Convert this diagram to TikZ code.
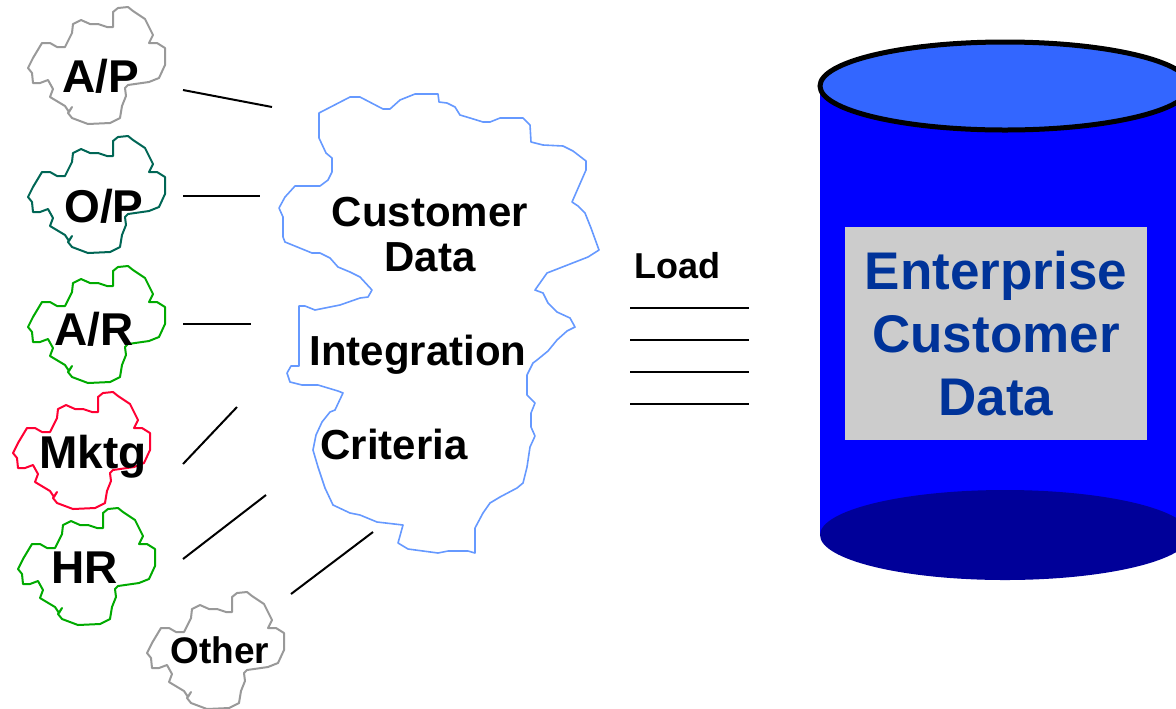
\documentclass[tikz,border=0pt]{standalone}
\usepackage{fontspec}
\setmainfont{Liberation Sans}
\usepackage{xcolor}
\usetikzlibrary{positioning}

\definecolor{cloudgray}{HTML}{999999}
\definecolor{opteal}{HTML}{006655}
\definecolor{argreen}{HTML}{00AA00}
\definecolor{mkred}{HTML}{FF0033}
\definecolor{hubblue}{HTML}{6699FF}
\definecolor{dbside}{HTML}{0000FF}
\definecolor{dbtop}{HTML}{3366FF}
\definecolor{dbbottom}{HTML}{000099}
\definecolor{dbtext}{HTML}{003399}
\definecolor{boxgray}{HTML}{CCCCCC}

\begin{document}
\begin{tikzpicture}[
  x=0.5pt, y=-0.5pt,
  src/.style={font=\fontsize{23}{27}\selectfont\bfseries, inner sep=0, anchor=base},
  hub/.style={font=\fontsize{21}{22.5}\selectfont\bfseries, inner sep=0, align=center},
  link/.style={line width=1pt},
  blob/.style={line width=1pt, line join=round},
  dbbox/.style={fill=boxgray, text=dbtext, inner sep=0, align=center,
    minimum width=151pt, minimum height=106.5pt,
    font=\fontsize{26.5}{31.5}\selectfont\bfseries}
]
\useasboundingbox (0,0) rectangle (1176,708);
\clip (0,0) rectangle (1176,708);

% Source clouds (same outline, moved)
\foreach \x/\y/\col in {97/66/cloudgray, 97/195/opteal, 97/325/argreen,
                        82/451/mkred, 87/567/argreen, 216/651/cloudgray} {
  \draw[blob, draw=\col, shift={(\x,\y)}]
    (16,-54) -- (21,-58) -- (31,-59) -- (36,-55) -- (48,-47) -- (56,-31)
    -- (52,-23) -- (60,-23) -- (68,-18) -- (68,-1) -- (62,12) -- (52,16)
    -- (31,19) -- (28,22) -- (29,30) -- (25,40) -- (23,52) -- (13,57)
    -- (-9,58) -- (-25,52) -- (-29,47) -- (-25,41) -- (-28,46) -- (-32,40)
    -- (-47,31) -- (-44,23) -- (-49,14) -- (-57,17) -- (-64,17) -- (-65,7)
    -- (-69,2) -- (-64,-8) -- (-55,-23) -- (-47,-23) -- (-40,-19) -- (-32,-19)
    -- (-25,-33) -- (-24,-42) -- (-16,-46) -- (-7,-42) -- (1,-42) -- (10,-39)
    -- (16,-39) -- cycle;
}

\node[src] (ap) at (101,92) {A/P};
\node[src] (op) at (104,222) {O/P};
\node[src] (ar) at (94,345) {A/R};
\node[src] (mktg) at (93,468) {Mktg};
\node[src] (hr) at (85,583) {HR};
\node[src, font=\fontsize{18.5}{22}\selectfont\bfseries] (other) at (220,663) {Other};

% Integration cloud
\draw[blob, draw=hubblue, line width=0.8pt]
  (319,113) -- (350,97) -- (360,97) -- (383,109) -- (390,109) -- (400,100)
  -- (415,94) -- (438,94) -- (439,102) -- (447,103) -- (455,107) -- (460,115)
  -- (470,118) -- (483,122) -- (490,122) -- (500,118) -- (523,118) -- (530,125)
  -- (531,142) -- (543,145) -- (563,146) -- (573,151) -- (586,161) -- (586,170)
  -- (572,202) -- (578,206) -- (585,213) -- (591,228) -- (599,250) -- (588,257)
  -- (547,273) -- (535,290) -- (543,293) -- (548,303) -- (557,312) -- (570,318)
  -- (575,327) -- (567,331) -- (557,340) -- (548,351) -- (537,360) -- (533,363)
  -- (527,375) -- (527,395) -- (535,403) -- (531,413) -- (531,427) -- (535,436)
  -- (530,447) -- (527,467) -- (523,483) -- (517,488) -- (500,497) -- (490,503)
  -- (483,513) -- (475,528) -- (475,553) -- (468,551) -- (448,551) -- (438,553)
  -- (408,549) -- (398,543) -- (403,525) -- (377,522) -- (360,515) -- (350,513)
  -- (333,505) -- (325,488) -- (318,467) -- (313,450) -- (316,435) -- (322,422)
  -- (330,412) -- (335,410) -- (343,393) -- (338,391) -- (318,385) -- (302,385)
  -- (290,382) -- (287,373) -- (291,366) -- (299,366) -- (299,306) -- (305,306)
  -- (315,310) -- (340,305) -- (360,298) -- (368,297) -- (372,290) -- (360,277)
  -- (350,272) -- (338,267) -- (330,258) -- (320,253) -- (312,253) -- (285,242)
  -- (283,237) -- (283,217) -- (279,208) -- (285,197) -- (295,186) -- (320,186)
  -- (328,180) -- (332,172) -- (332,158) -- (326,153) -- (319,138) -- cycle;

\node[hub] (custdata) at (430,235) {Customer\\Data};
\node[hub, anchor=base] (integ) at (418,365) {Integration};
\node[hub, anchor=base] (crit) at (394,459) {Criteria};

% Links from sources
\foreach \n/\ax/\ay/\bx/\by in {ap/183/90/272/107, op/183/196/260/196,
    ar/183/324/251/324, mktg/183/464/237/407, hr/183/559/266/495,
    other/291/594/373/532} {
  \coordinate (\n-out) at (\ax,\ay);
  \coordinate (\n-in) at (\bx,\by);
  \draw[link] (\n-out) -- (\n-in);
}

% Load
\node[src, font=\fontsize{18}{22}\selectfont\bfseries] (load) at (677,278) {Load};
\foreach \i/\y in {1/308, 2/340, 3/372, 4/404} {
  \coordinate (load-a\i) at (630,\y);
  \coordinate (load-b\i) at (749,\y);
  \draw[link] (load-a\i) -- (load-b\i);
}

% Enterprise store
\fill[dbside] (820,86) rectangle (1190,535);
\fill[dbbottom] (1005,535) ellipse [x radius=185, y radius=45];
\filldraw[fill=dbtop, draw=black, line width=2.5pt] (1005,86) ellipse [x radius=185, y radius=44];
\node[dbbox] (edw) at (996,333.5) {Enterprise\\Customer\\Data};

\end{tikzpicture}
\end{document}
